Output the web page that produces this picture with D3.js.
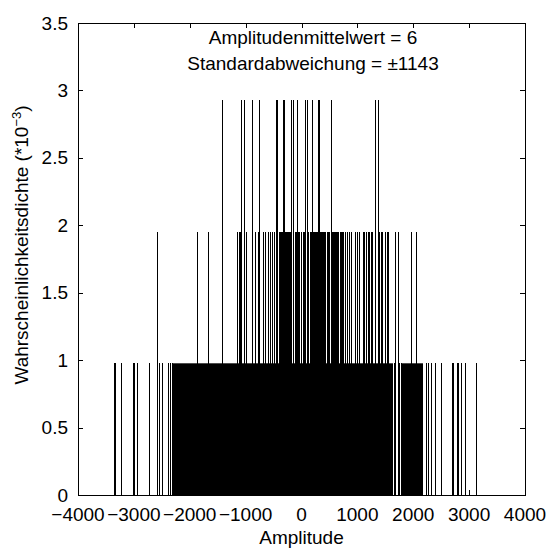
<!DOCTYPE html>
<html>
<head>
<meta charset="utf-8">
<script src="https://cdn.jsdelivr.net/npm/d3@7"></script>
<style>
    body { margin: 0; background: #fff; }
    svg text { font-family: "Liberation Sans", Arial, sans-serif; fill: #000; }
</style>
</head>
<body>
<div id="chart"></div>
<script>
// Histogram of amplitudes, 1024 samples -> one hit = 1/1024 (shown *10^-3)
const sampleCount = 1024;

const xTicks = [-4000, -3000, -2000, -1000, 0, 1000, 2000, 3000, 4000];
const yTicks = [0, 0.5, 1, 1.5, 2, 2.5, 3, 3.5];

// amplitudes hit once (sparse tails)
const singleHits = [
    -3357, -3334, -3232, -3013, -2991, -2952, -2727, -2554, -2505,
    -2384, -2348, -2321,
    1661, 1750, 1780, 2227, 2268, 2316, 2388, 2505, 2702, 2720,
    2780, 2804, 2852, 2929, 3130
];

// ranges so packed with single hits that they read as solid black
const singleRuns = [
    [-2304, -1982], [-1955, -1839], [-1821, 1625], [1804, 1946], [1982, 2161]
];

// amplitudes hit twice
const doubleHits = [
    -2584, -1875, -1670, -1148, -1125, -1098, -1000, -839, -777, -688, -661,
    -598, -563, -527, -500, -411, -398, -384, -370, -357, -296, -282, -268,
    -241, -227, -214, -196, -125, -98, -67, -54, -36, -9,
    18, 32, 45, 58, 112, 125, 152, 165, 192, 205, 232, 245, 259,
    272, 335, 348, 375, 389, 402, 416, 429, 455, 469, 482, 496,
    554, 567, 580, 607, 621, 634, 648, 661, 688, 701, 714, 728,
    741, 777, 813, 848, 893,
    964, 1000, 1036, 1098, 1125, 1152, 1188, 1214, 1241, 1268, 1393, 1420,
    1446, 1491, 1527, 1554, 1679, 1732, 1955, 2045
];

// amplitudes hit three times
const tripleHits = [
    -1429, -1080, -1036, -884, -759, -464, -438, -339, -321, -179, -152,
    -80, 71, 98, 179, 295, 321, 527, 1321, 1366
];

const titleLines = ['Amplitudenmittelwert = 6', 'Standardabweichung = \u00b11143'];

const width = 550, height = 549;
const margin = { left: 78, right: 25, top: 23, bottom: 54 };

const svg = d3.select('#chart')
    .append('svg')
    .attr('width', width)
    .attr('height', height);

const x = d3.scaleLinear().domain([-4000, 4000]).range([margin.left, width - margin.right]);
const y = d3.scaleLinear().domain([0, 3.5]).range([height - margin.bottom, margin.top]);

const density = n => n / sampleCount * 1000;
const px = v => Math.round(x(v)) + 0.5;

const plot = svg.append('g');

// solid runs of single hits
plot.selectAll('rect.run')
    .data(singleRuns)
    .join('rect')
    .attr('class', 'run')
    .attr('x', d => Math.round(x(d[0])))
    .attr('width', d => Math.round(x(d[1])) - Math.round(x(d[0])) + 1)
    .attr('y', y(density(1)))
    .attr('height', y(0) - y(density(1)))
    .attr('fill', '#000');

const stems = [
    ...singleHits.map(a => ({ a, n: 1 })),
    ...doubleHits.map(a => ({ a, n: 2 })),
    ...tripleHits.map(a => ({ a, n: 3 }))
];

plot.selectAll('line.stem')
    .data(stems)
    .join('line')
    .attr('class', 'stem')
    .attr('x1', d => px(d.a))
    .attr('x2', d => px(d.a))
    .attr('y1', y(0))
    .attr('y2', d => y(density(d.n)))
    .attr('stroke', '#000')
    .attr('stroke-width', 1)
    .attr('shape-rendering', 'crispEdges');

// box with inward ticks on all sides
const tickLen = 5;
const axes = svg.append('g')
    .attr('stroke', '#000')
    .attr('stroke-width', 1)
    .attr('shape-rendering', 'crispEdges');

axes.append('rect')
    .attr('x', x(-4000) + 0.5)
    .attr('y', y(3.5) + 0.5)
    .attr('width', x(4000) - x(-4000))
    .attr('height', y(0) - y(3.5))
    .attr('fill', 'none');

xTicks.forEach(t => {
    const xx = px(t);
    axes.append('line').attr('x1', xx).attr('x2', xx).attr('y1', y(0)).attr('y2', y(0) - tickLen);
    axes.append('line').attr('x1', xx).attr('x2', xx).attr('y1', y(3.5)).attr('y2', y(3.5) + tickLen);
});
yTicks.forEach(t => {
    const yy = Math.round(y(t)) + 0.5;
    axes.append('line').attr('x1', x(-4000)).attr('x2', x(-4000) + tickLen).attr('y1', yy).attr('y2', yy);
    axes.append('line').attr('x1', x(4000)).attr('x2', x(4000) - tickLen).attr('y1', yy).attr('y2', yy);
});

// tick labels
const fontSize = 19;
svg.append('g').selectAll('text')
    .data(xTicks)
    .join('text')
    .attr('x', d => x(d))
    .attr('y', y(0) + 26)
    .attr('text-anchor', 'middle')
    .attr('font-size', fontSize)
    .text(d => d3.format('d')(d));

svg.append('g').selectAll('text')
    .data(yTicks)
    .join('text')
    .attr('x', x(-4000) - 10)
    .attr('y', d => y(d) + 6.5)
    .attr('text-anchor', 'end')
    .attr('font-size', fontSize)
    .text(d => d3.format('')(d));

// axis titles
svg.append('text')
    .attr('x', (x(-4000) + x(4000)) / 2)
    .attr('y', height - 5)
    .attr('text-anchor', 'middle')
    .attr('font-size', fontSize)
    .text('Amplitude');

const yl = svg.append('text')
    .attr('transform', `translate(28, 245) rotate(-90)`)
    .attr('text-anchor', 'middle')
    .attr('font-size', fontSize);
yl.append('tspan').text('Wahrscheinlichkeitsdichte (*10');
yl.append('tspan').attr('dy', -7).attr('font-size', 13).text('\u22123');
yl.append('tspan').attr('dy', 7).text(')');

// annotation
svg.append('g').selectAll('text')
    .data(titleLines)
    .join('text')
    .attr('x', 313)
    .attr('y', (d, i) => 44 + i * 26)
    .attr('text-anchor', 'middle')
    .attr('font-size', fontSize)
    .text(d => d);
</script>
</body>
</html>
